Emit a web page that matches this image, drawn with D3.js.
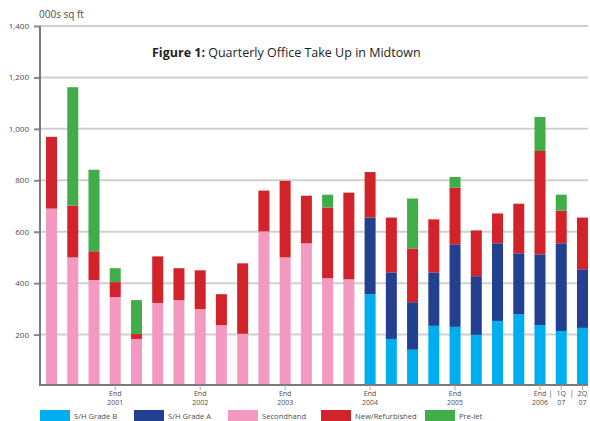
<!DOCTYPE html>
<html>
<head>
<meta charset="utf-8">
<script src="https://cdn.jsdelivr.net/npm/d3@7"></script>
<style>
    body { margin: 0; background: #fff; }
    svg text { font-family: "Open Sans", sans-serif; fill: #4d4d4d; }
</style>
</head>
<body>
<div id="chart"></div>
<script>
(function () {
    // quarters Q1 2001 .. Q2 2007
    var quarters = ['2001Q1', '2001Q2', '2001Q3', '2001Q4',
        '2002Q1', '2002Q2', '2002Q3', '2002Q4',
        '2003Q1', '2003Q2', '2003Q3', '2003Q4',
        '2004Q1', '2004Q2', '2004Q3', '2004Q4',
        '2005Q1', '2005Q2', '2005Q3', '2005Q4',
        '2006Q1', '2006Q2', '2006Q3', '2006Q4',
        '2007Q1', '2007Q2'];

    var shGradeB   = [0, 0, 0, 0, 0, 0, 0, 0, 0, 0, 0, 0, 0, 0, 0, 357, 183, 141, 234, 230, 199, 253, 280, 237, 214, 226];
    var shGradeA   = [0, 0, 0, 0, 0, 0, 0, 0, 0, 0, 0, 0, 0, 0, 0, 298, 259, 185, 208, 321, 228, 302, 236, 275, 341, 228];
    var secondhand = [690, 500, 412, 346, 183, 323, 334, 299, 237, 203, 601, 500, 555, 419, 415, 0, 0, 0, 0, 0, 0, 0, 0, 0, 0, 0];
    var newRefurb  = [279, 202, 112, 58, 19, 181, 124, 151, 120, 274, 159, 298, 185, 275, 337, 177, 213, 209, 206, 220, 178, 116, 193, 402, 127, 201];
    var prelet     = [0, 460, 317, 54, 132, 0, 0, 0, 0, 0, 0, 0, 0, 50, 0, 0, 0, 194, 0, 42, 0, 0, 0, 132, 62, 0];

    var seriesNames = ['S/H Grade B', 'S/H Grade A', 'Secondhand', 'New/Refurbished', 'Pre-let'];
    var seriesColors = ['#00aeef', '#233f8f', '#f49ac1', '#d2232a', '#41ad49'];

    var xTickQuarters = ['2001Q4', '2002Q4', '2003Q4', '2004Q4', '2005Q4', '2006Q4', '2007Q1', '2007Q2'];
    var xTickLabels = [['End', '2001'], ['End', '2002'], ['End', '2003'], ['End', '2004'],
        ['End', '2005'], ['End', '2006'], ['1Q', '07'], ['2Q', '07']];
    var yTicks = [200, 400, 600, 800, 1000, 1200, 1400];

    var width = 590;
    var height = 421;

    var rows = quarters.map(function(q, i) {
        return { q: q, b: shGradeB[i], a: shGradeA[i], s: secondhand[i], n: newRefurb[i], p: prelet[i] };
    });
    var keys = ['b', 'a', 's', 'n', 'p'];

    var svg = d3.select('#chart')
        .append('svg')
        .attr('width', width)
        .attr('height', height);

    var x = d3.scaleBand()
        .domain(quarters)
        .range([35.4, 598.6])
        .paddingInner(0.482)
        .paddingOuter(0.5);

    var y = d3.scaleLinear()
        .domain([0, 1400])
        .range([386, 26]);

    var axisLeft = 40;
    var axisRight = 588;
    var baseY = 385;

    // gridlines
    svg.append('g')
        .selectAll('line')
        .data(yTicks)
        .enter()
        .append('line')
        .attr('x1', axisLeft)
        .attr('x2', axisRight)
        .attr('y1', function(d) { return y(d); })
        .attr('y2', function(d) { return y(d); })
        .attr('stroke', '#d0d0d0')
        .attr('stroke-width', 2);

    // bars
    var stack = d3.stack().keys(keys);
    var layers = svg.append('g')
        .selectAll('g')
        .data(stack(rows))
        .enter()
        .append('g')
        .attr('fill', function(d, i) { return seriesColors[i]; });

    layers.selectAll('rect')
        .data(function(d) { return d; })
        .enter()
        .append('rect')
        .attr('x', function(d) { return x(d.data.q); })
        .attr('width', x.bandwidth())
        .attr('y', function(d) { return y(d[1]); })
        .attr('height', function(d) { return Math.max(0, Math.min(y(d[0]), baseY) - y(d[1])); });

    // y axis
    var yAxis = svg.append('g')
        .attr('transform', 'translate(' + axisLeft + ',0)')
        .call(d3.axisLeft(y).tickValues(yTicks).tickFormat(d3.format(',')).tickSize(6).tickPadding(5));
    yAxis.select('.domain').remove();
    yAxis.selectAll('.tick line').attr('stroke', '#888').attr('stroke-width', 2);
    yAxis.selectAll('.tick text').attr('font-size', 8).style('font-family', '"Open Sans", sans-serif').attr('fill', '#555');

    svg.append('line')
        .attr('x1', axisLeft).attr('x2', axisLeft)
        .attr('y1', y(1400)).attr('y2', baseY + 1)
        .attr('stroke', '#7a7a7a').attr('stroke-width', 2);

    // x axis
    svg.append('line')
        .attr('x1', axisLeft - 1).attr('x2', axisRight)
        .attr('y1', baseY).attr('y2', baseY)
        .attr('stroke', '#7a7a7a').attr('stroke-width', 2);

    var xt = svg.append('g')
        .selectAll('g')
        .data(xTickQuarters)
        .enter()
        .append('g')
        .attr('transform', function(d) { return 'translate(' + (x(d) + x.bandwidth() / 2) + ',0)'; });

    xt.append('line')
        .attr('y1', baseY).attr('y2', baseY + 5)
        .attr('stroke', '#aaa').attr('stroke-width', 1);

    xt.append('text')
        .attr('text-anchor', 'middle')
        .attr('font-size', 7)
        .selectAll('tspan')
        .data(function(d, i) { return xTickLabels[i]; })
        .enter()
        .append('tspan')
        .attr('x', 0)
        .attr('y', function(d, i) { return 396 + i * 9; })
        .text(function(d) { return d; });

    // separators between end 2006 / 1Q 07 / 2Q 07
    svg.append('g')
        .selectAll('line')
        .data(['2007Q1', '2007Q2'])
        .enter()
        .append('line')
        .attr('x1', function(d) { return x(d) - (x.step() - x.bandwidth()) / 2; })
        .attr('x2', function(d) { return x(d) - (x.step() - x.bandwidth()) / 2; })
        .attr('y1', 390).attr('y2', 398)
        .attr('stroke', '#aaa').attr('stroke-width', 1);

    // unit label
    svg.append('text')
        .attr('x', 39).attr('y', 18)
        .attr('font-size', 10)
        .text('000s sq ft');

    // title
    var title = svg.append('text')
        .attr('x', 152).attr('y', 57)
        .attr('font-size', 12.5)
        .attr('fill', '#222');
    title.append('tspan').attr('font-weight', 'bold').style('fill', '#222').text('Figure 1:');
    title.append('tspan').style('fill', '#222').text(' Quarterly Office Take Up in Midtown');

    // legend
    var legendX = [40, 134, 228, 321, 425];
    var legend = svg.append('g')
        .selectAll('g')
        .data(seriesNames)
        .enter()
        .append('g')
        .attr('transform', function(d, i) { return 'translate(' + legendX[i] + ',410)'; });

    legend.append('rect')
        .attr('width', 30)
        .attr('height', 11)
        .attr('fill', function(d, i) { return seriesColors[i]; });

    legend.append('text')
        .attr('x', 34)
        .attr('y', 9)
        .attr('font-size', 7.6)
        .text(function(d) { return d; });
})();
</script>
</body>
</html>
